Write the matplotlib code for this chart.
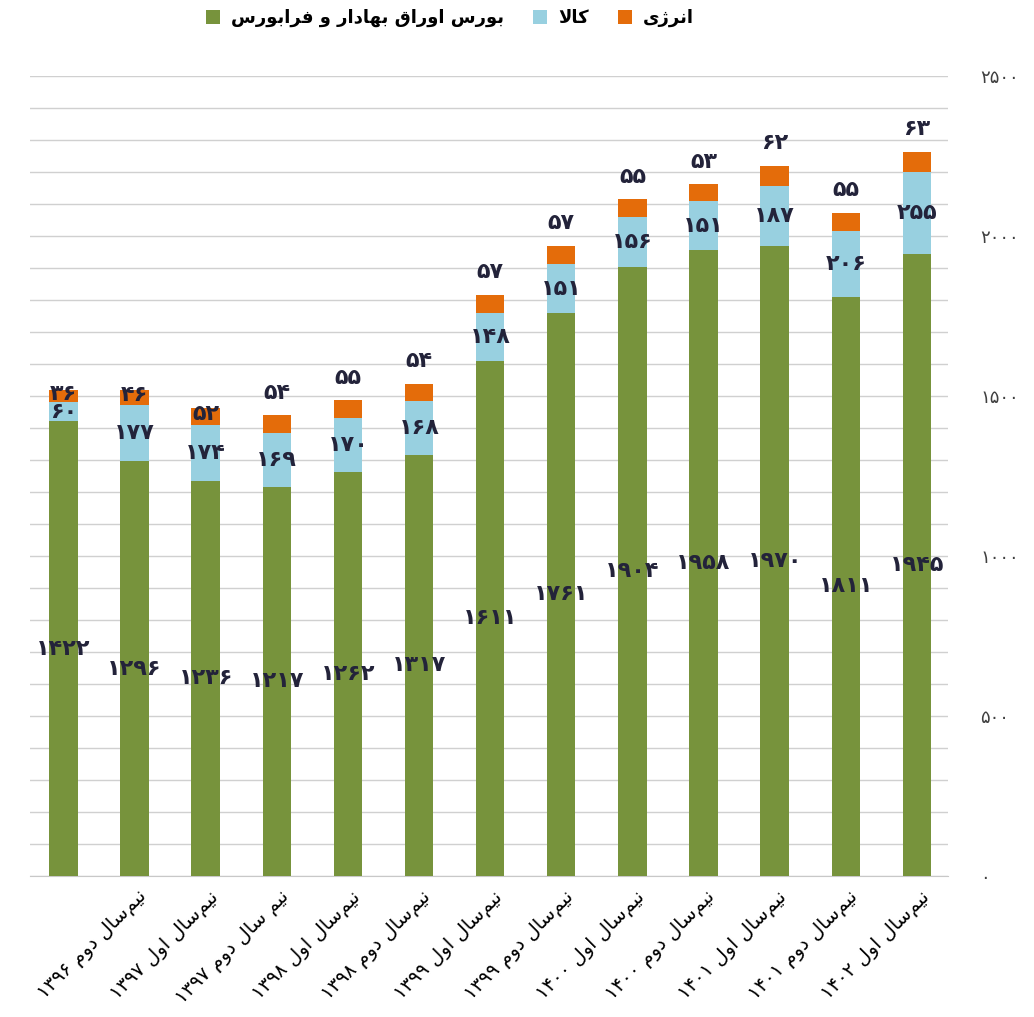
import matplotlib
matplotlib.use("Agg")
import matplotlib.pyplot as plt
from matplotlib.patches import Patch
import matplotlib.transforms as mtransforms

# ---------------- data ----------------
categories = ['', 'نیم‌سال دوم ۱۳۹۶', 'نیم‌سال اول ۱۳۹۷', 'نیم سال دوم ۱۳۹۷',
              'نیم‌سال اول ۱۳۹۸', 'نیم‌سال دوم ۱۳۹۸', 'نیم‌سال اول ۱۳۹۹',
              'نیم‌سال دوم ۱۳۹۹', 'نیم‌سال اول ۱۴۰۰', 'نیم‌سال دوم ۱۴۰۰',
              'نیم‌سال اول ۱۴۰۱', 'نیم‌سال دوم ۱۴۰۱', 'نیم‌سال اول ۱۴۰۲']
bourse = [1422, 1296, 1236, 1217, 1262, 1317, 1611, 1761, 1904, 1958, 1970, 1811, 1945]
kala = [60, 177, 174, 169, 170, 168, 148, 151, 156, 151, 187, 206, 255]
energy = [36, 46, 52, 54, 55, 54, 57, 57, 55, 53, 62, 55, 63]
series_names = ['بورس اوراق بهادار و فرابورس', 'کالا', 'انرژی']
yticks = [0, 500, 1000, 1500, 2000, 2500]

# ---------------- simple Persian shaping ----------------
FORMS = {
    'ا': ('\uFE8D', '\uFE8E', None, None),
    'ب': ('\uFE8F', '\uFE90', '\uFE91', '\uFE92'),
    'د': ('\uFEA9', '\uFEAA', None, None),
    'ر': ('\uFEAD', '\uFEAE', None, None),
    'ز': ('\uFEAF', '\uFEB0', None, None),
    'ژ': ('\uFB8A', '\uFB8B', None, None),
    'س': ('\uFEB1', '\uFEB2', '\uFEB3', '\uFEB4'),
    'ف': ('\uFED1', '\uFED2', '\uFED3', '\uFED4'),
    'ق': ('\uFED5', '\uFED6', '\uFED7', '\uFED8'),
    'ک': ('\uFB8E', '\uFB8F', '\uFB90', '\uFB91'),
    'ل': ('\uFEDD', '\uFEDE', '\uFEDF', '\uFEE0'),
    'م': ('\uFEE1', '\uFEE2', '\uFEE3', '\uFEE4'),
    'ن': ('\uFEE5', '\uFEE6', '\uFEE7', '\uFEE8'),
    'ه': ('\uFEE9', '\uFEEA', '\uFEEB', '\uFEEC'),
    'و': ('\uFEED', '\uFEEE', None, None),
    'ی': ('\uFBFC', '\uFBFD', '\uFBFE', '\uFBFF'),
    'LA': ('\uFEFB', '\uFEFC', None, None),
}
PDIG = '۰۱۲۳۴۵۶۷۸۹'


def shape(text):
    chars = []
    i = 0
    while i < len(text):
        c = text[i]
        if c == 'ل' and i + 1 < len(text) and text[i + 1] == 'ا':
            chars.append('LA')
            i += 2
        else:
            chars.append(c)
            i += 1
    out = []
    for k, c in enumerate(chars):
        if c not in FORMS:
            out.append('' if c == '\u200c' else c)
            continue
        f = FORMS[c]
        prev = chars[k - 1] if k > 0 else None
        nxt = chars[k + 1] if k + 1 < len(chars) else None
        jp = prev in FORMS and FORMS[prev][2] is not None
        jn = f[2] is not None and nxt in FORMS
        if jp and jn:
            g = f[3]
        elif jp:
            g = f[1]
        elif jn:
            g = f[2]
        else:
            g = f[0]
        out.append(g)
    vis = out[::-1]
    res, run = [], []
    for g in vis:
        if g and g in PDIG:
            run.append(g)
        else:
            if run:
                res.extend(run[::-1])
                run = []
            res.append(g)
    if run:
        res.extend(run[::-1])
    return ''.join(res)


def fa(n):
    return ''.join(PDIG[int(d)] for d in str(n))


# ---------------- figure ----------------
plt.rcParams['font.family'] = ['DejaVu Sans']
fig = plt.figure(figsize=(10.34, 10.17), dpi=100)
ax = fig.add_axes([0.029, 0.1386, 0.888, 0.7864])

c_green = '#77933C'
c_blue = '#98D0E0'
c_orange = '#E46C0A'
lab_col = '#23233A'

x = list(range(len(categories)))
w = 0.40
ax.bar(x, bourse, w, color=c_green, zorder=3)
ax.bar(x, kala, w, bottom=bourse, color=c_blue, zorder=3)
bottom3 = [a + b for a, b in zip(bourse, kala)]
ax.bar(x, energy, w, bottom=bottom3, color=c_orange, zorder=3)

ax.set_xlim(-0.47, 12.44)
ax.set_ylim(0, 2500)
ax.set_yticks(yticks)
ax.set_yticks(range(0, 2501, 100), minor=True)
ax.yaxis.grid(True, which='both', color='#D0D0D0', linewidth=1.0, zorder=0)
ax.yaxis.tick_right()
ax.set_yticklabels([fa(v) for v in yticks], fontsize=13, color='#404040')
ax.tick_params(axis='y', which='both', length=0, pad=23)
for s in ['top', 'left', 'right']:
    ax.spines[s].set_visible(False)
ax.spines['bottom'].set_color('#C8C8C8')

ax.set_xticks(x)
ax.set_xticklabels([shape(c) for c in categories], rotation=45, ha='right',
                   va='top', rotation_mode='anchor', fontsize=14)
ax.tick_params(axis='x', length=0, pad=8)
offset = mtransforms.ScaledTranslation(2 / 72, 0, fig.dpi_scale_trans)
for lab in ax.get_xticklabels():
    lab.set_transform(lab.get_transform() + offset)

# data labels
for i in range(len(x)):
    ax.text(i, bourse[i] / 2, fa(bourse[i]), ha='center', va='center',
            fontsize=16, fontweight='bold', color=lab_col, zorder=5)
    ax.text(i, bourse[i] + kala[i] / 2, fa(kala[i]), ha='center', va='center',
            fontsize=16, fontweight='bold', color=lab_col, zorder=5)
    top = bottom3[i] + energy[i]
    if i < 3:
        ax.text(i, bottom3[i] + energy[i] / 2 + 8, fa(energy[i]), ha='center', va='center',
                fontsize=16, fontweight='bold', color=lab_col, zorder=5)
    else:
        ax.text(i, top + 40, fa(energy[i]), ha='center', va='bottom',
                fontsize=16, fontweight='bold', color=lab_col, zorder=5)

handles = [Patch(facecolor=c_green), Patch(facecolor=c_blue), Patch(facecolor=c_orange)]
fig.legend(handles, [shape(s) for s in series_names], loc='center',
           bbox_to_anchor=(450 / 1034, 1 - 18 / 1017), ncol=3, frameon=False,
           prop={'size': 13, 'weight': 'bold'}, handlelength=0.8, handleheight=0.8,
           handletextpad=0.6, columnspacing=1.6)

fig.savefig('out.png', dpi=100)
